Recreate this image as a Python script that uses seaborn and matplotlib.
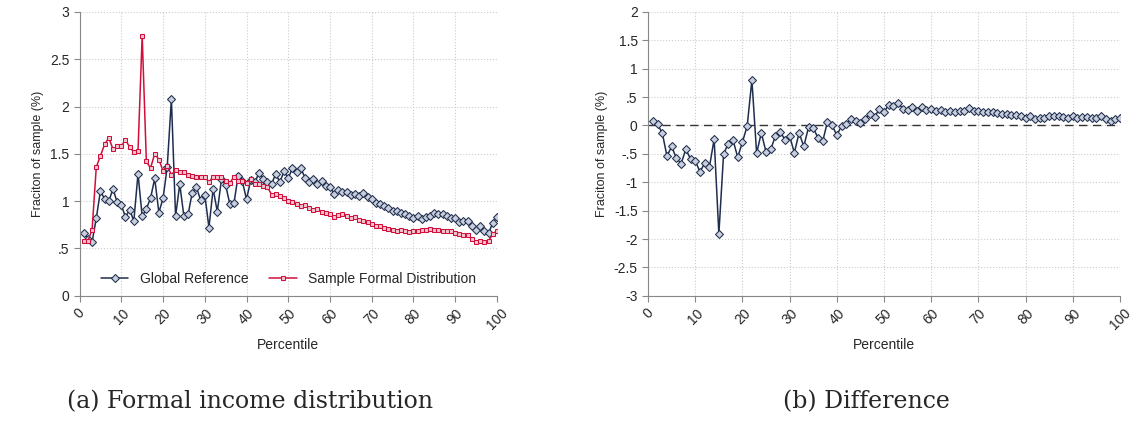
import numpy as np
import pandas as pd
import matplotlib.pyplot as plt
import seaborn as sns

# ─── DATA ───────────────────────────────────────────────
percentile = list(range(1, 101))
global_ref = [0.66, 0.60, 0.57, 0.82, 1.11, 1.02, 1.00, 1.13, 0.99, 0.96,
              0.83, 0.91, 0.79, 1.29, 0.84, 0.92, 1.03, 1.24, 0.88, 1.03,
              1.36, 2.08, 0.84, 1.18, 0.84, 0.86, 1.09, 1.15, 1.01, 1.07,
              0.72, 1.13, 0.89, 1.23, 1.17, 0.97, 0.98, 1.27, 1.21, 1.02,
              1.22, 1.20, 1.30, 1.23, 1.20, 1.18, 1.29, 1.20, 1.32, 1.24,
              1.35, 1.31, 1.35, 1.25, 1.20, 1.23, 1.18, 1.21, 1.16, 1.15,
              1.08, 1.12, 1.10, 1.10, 1.06, 1.08, 1.05, 1.09, 1.04, 1.02,
              0.98, 0.97, 0.95, 0.93, 0.90, 0.90, 0.88, 0.86, 0.84, 0.82,
              0.84, 0.81, 0.83, 0.84, 0.87, 0.86, 0.86, 0.84, 0.82, 0.82,
              0.78, 0.79, 0.79, 0.74, 0.70, 0.74, 0.69, 0.66, 0.77, 0.83]
sample_formal = [0.58, 0.58, 0.70, 1.36, 1.48, 1.60, 1.67, 1.55, 1.58, 1.58,
                 1.65, 1.57, 1.52, 1.53, 2.75, 1.42, 1.35, 1.50, 1.44, 1.32,
                 1.37, 1.28, 1.33, 1.31, 1.31, 1.28, 1.27, 1.26, 1.26, 1.26,
                 1.20, 1.26, 1.26, 1.26, 1.21, 1.19, 1.26, 1.21, 1.21, 1.19,
                 1.23, 1.18, 1.18, 1.16, 1.15, 1.07, 1.08, 1.05, 1.03, 1.00,
                 0.99, 0.97, 0.95, 0.96, 0.93, 0.91, 0.92, 0.89, 0.88, 0.86,
                 0.83, 0.85, 0.86, 0.84, 0.82, 0.83, 0.80, 0.79, 0.78, 0.76,
                 0.74, 0.74, 0.72, 0.71, 0.70, 0.69, 0.70, 0.68, 0.67, 0.69,
                 0.68, 0.70, 0.70, 0.71, 0.70, 0.70, 0.69, 0.69, 0.68, 0.66,
                 0.65, 0.64, 0.64, 0.60, 0.57, 0.58, 0.57, 0.58, 0.65, 0.69]

df = pd.DataFrame({"Percentile": percentile,
                   "Global Reference": global_ref,
                   "Sample Formal Distribution": sample_formal})
df["Difference"] = df["Global Reference"] - df["Sample Formal Distribution"]

NAVY = "#1f2d4e"
RED = "#d0103a"

sns.set_style("white")
plt.rcParams['font.family'] = ['Liberation Sans', 'DejaVu Sans']

fig = plt.figure(figsize=(11.37, 4.25), dpi=100)
ax1 = fig.add_axes([0.070, 0.304, 0.367, 0.668])
ax2 = fig.add_axes([0.570, 0.304, 0.415, 0.668])

def fmt(v):
    s = f"{v:g}"
    return s.replace("0.", ".")

def style(ax, yt):
    ax.set_xlim(0, 100)
    ax.set_xticks(range(0, 101, 10))
    ax.set_xticklabels([str(t) for t in range(0, 101, 10)], rotation=45, fontsize=10)
    ax.set_yticks(yt)
    ax.set_yticklabels([fmt(v) for v in yt], fontsize=10)
    ax.set_ylim(yt[0], yt[-1])
    ax.grid(True, linestyle=":", color="#cccccc", linewidth=0.8)
    for s in ["top", "right"]:
        ax.spines[s].set_visible(False)
    for s in ["left", "bottom"]:
        ax.spines[s].set_color("#888888")
    ax.tick_params(axis="both", length=4, color="#888888", left=True, bottom=True)
    ax.set_xlabel("Percentile", fontsize=10)
    ax.set_ylabel("Fraciton of sample (%)", fontsize=9)

# ─── PANEL A ────────────────────────────────────────────
sns.lineplot(data=df, x="Percentile", y="Global Reference", ax=ax1, color=NAVY,
             lw=1.1, marker="D", markersize=3.8, markerfacecolor="#c8cedb",
             markeredgecolor=NAVY, label="Global Reference")
sns.lineplot(data=df, x="Percentile", y="Sample Formal Distribution", ax=ax1, color=RED,
             lw=1.1, marker="s", markersize=3.4, markerfacecolor="#f4c3cf",
             markeredgecolor=RED, label="Sample Formal Distribution")
style(ax1, [0, 0.5, 1, 1.5, 2, 2.5, 3])
ax1.legend(loc="lower center", ncol=2, frameon=False, fontsize=10,
           bbox_to_anchor=(0.5, -0.01), columnspacing=1.5)

# ─── PANEL B ────────────────────────────────────────────
ax2.axhline(0, color="#333333", lw=1, ls=(0, (6, 4)))
sns.lineplot(data=df, x="Percentile", y="Difference", ax=ax2, color=NAVY,
             lw=1.1, marker="D", markersize=3.8, markerfacecolor="#c8cedb",
             markeredgecolor=NAVY)
style(ax2, [-3, -2.5, -2, -1.5, -1, -0.5, 0, 0.5, 1, 1.5, 2])

fig.text(0.22, 0.04, "(a) Formal income distribution", fontsize=17,
         family="DejaVu Serif", ha="center")
fig.text(0.762, 0.04, "(b) Difference", fontsize=17, family="DejaVu Serif", ha="center")

fig.savefig("out.png", dpi=100)
